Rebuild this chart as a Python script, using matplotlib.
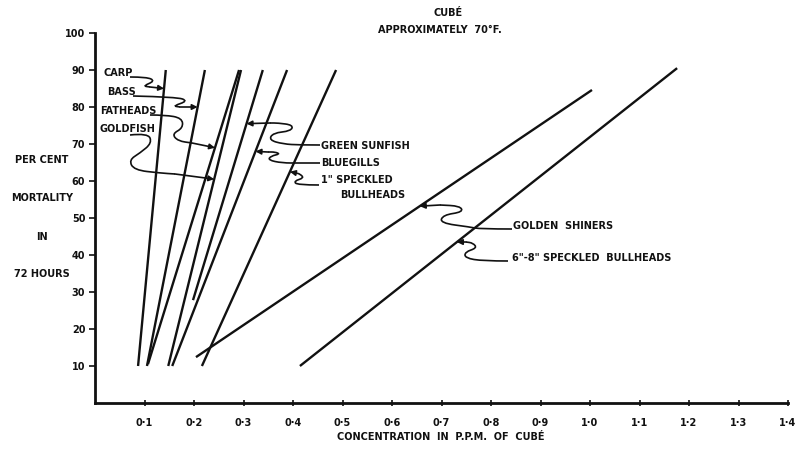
import numpy as np
import matplotlib
matplotlib.use("Agg")
import matplotlib.pyplot as plt
from matplotlib.path import Path
from matplotlib.patches import PathPatch

# per cent mortality in 72 hours vs concentration (p.p.m. of cube)
carp = ([0.087, 0.143], [10, 90])
bass = ([0.105, 0.222], [10, 90])
fatheads = ([0.107, 0.291], [10.5, 90])
goldfish = ([0.148, 0.295], [10, 90])
green_sunfish = ([0.198, 0.339], [27.8, 90])
bluegills = ([0.156, 0.388], [10, 90])
speckled_1in = ([0.216, 0.487], [10, 90])
golden_shiners = ([0.204, 1.004], [12.4, 84.6])
speckled_6_8in = ([0.414, 1.176], [10, 90.5])

series = [carp, bass, fatheads, goldfish, green_sunfish, bluegills,
          speckled_1in, golden_shiners, speckled_6_8in]

x_ticks = [0.1, 0.2, 0.3, 0.4, 0.5, 0.6, 0.7, 0.8, 0.9, 1.0, 1.1, 1.2, 1.3, 1.4]
x_ticklabels = ["0·1", "0·2", "0·3", "0·4", "0·5", "0·6", "0·7", "0·8", "0·9",
                "1·0", "1·1", "1·2", "1·3", "1·4"]
y_ticks = [10, 20, 30, 40, 50, 60, 70, 80, 90, 100]

INK = "#111111"
FONT = dict(family="DejaVu Sans", weight="bold", color=INK)

fig = plt.figure(figsize=(8.02, 4.49), dpi=100)
ax = fig.add_axes([95 / 802, 1 - 403 / 449, 693 / 802, 370 / 449])
ax.set_xlim(0, 1.4)
ax.set_ylim(0, 100)


def px(x, y):
    # layout helper: pixel position in the picture -> data coords
    return (x - 95) / 495, (403 - y) / 3.7


for xs, ys in series:
    ax.plot(xs, ys, color=INK, lw=1.7, solid_capstyle="butt")


def leader(pts, line, pct):
    # wavy hand-drawn leader from a label to a point on a line
    d = [px(*p) for p in pts]
    tip = (np.interp(pct, line[1], line[0]), pct)
    verts = [d[0]]
    codes = [Path.MOVETO]
    for i in range(1, len(d) - 1):
        mid = ((d[i][0] + d[i + 1][0]) / 2, (d[i][1] + d[i + 1][1]) / 2)
        verts += [d[i], mid]
        codes += [Path.CURVE3, Path.CURVE3]
    verts.append(d[-1])
    codes.append(Path.LINETO)
    ax.add_patch(PathPatch(Path(verts, codes), fill=False, ec=INK, lw=1.2,
                           clip_on=False))
    ax.annotate("", xy=tip, xytext=d[-1],
                arrowprops=dict(arrowstyle="-|>", color=INK, lw=1.2,
                                mutation_scale=8, shrinkA=0, shrinkB=0))


def label(x, y, s, ha="left"):
    ax.text(*px(x, y), s, fontsize=7, ha=ha, va="center", **FONT)


label(103, 73, "CARP")
leader([(130, 77), (147, 77), (155, 81), (143, 86), (150, 87)], carp, 85)
label(107, 92, "BASS")
leader([(133, 96), (177, 97), (188, 101), (173, 106), (180, 107)], bass, 80)
label(100, 111, "FATHEADS")
leader([(150, 115), (165, 115), (182, 118), (183, 128), (172, 134), (178, 141),
        (192, 143)], fatheads, 69)
label(100, 129, "GOLDFISH")
leader([(130, 135), (148, 133), (152, 143), (140, 153), (129, 160), (134, 170),
        (160, 173), (175, 174)], goldfish, 60.5)

label(321, 146, "GREEN SUNFISH")
leader([(320, 145), (300, 145), (283, 144), (269, 140), (273, 133), (291, 131),
        (293, 125), (278, 123), (270, 123)], green_sunfish, 75.5)
label(321, 163, "BLUEGILLS")
leader([(320, 163), (300, 163), (282, 163), (268, 160), (271, 156), (280, 154),
        (275, 152), (268, 152)], bluegills, 68)
label(321, 180, "1\" SPECKLED")
label(340, 195, "BULLHEADS")
leader([(319, 185), (297, 185), (294, 181), (304, 178), (300, 174), (296, 173)],
       speckled_1in, 62.5)

label(513, 226, "GOLDEN  SHINERS")
leader([(512, 229), (480, 229), (470, 227), (440, 223), (443, 215), (463, 212),
        (460, 206), (440, 205)], golden_shiners, 53.2)
label(512, 258, "6\"-8\" SPECKLED  BULLHEADS")
leader([(508, 261), (483, 261), (465, 258), (465, 252), (477, 248), (473, 243),
        (466, 242)], speckled_6_8in, 43.5)

# title
fig.text(448 / 802, 1 - 13 / 449, "CUBÉ", fontsize=7, ha="center", va="center", **FONT)
fig.text(440 / 802, 1 - 30 / 449, "APPROXIMATELY  70°F.", fontsize=7, ha="center",
         va="center", **FONT)

# y label, stacked like the original
for yy, s in [(160, "PER CENT"), (198, "MORTALITY"), (237, "IN"), (274, "72 HOURS")]:
    fig.text(42 / 802, 1 - yy / 449, s, fontsize=7, ha="center", va="center", **FONT)

fig.text(441 / 802, 1 - 437 / 449, "CONCENTRATION  IN  P.P.M.  OF  CUBÉ", fontsize=7,
         ha="center", va="center", **FONT)

ax.set_xticks(x_ticks)
ax.set_xticklabels(x_ticklabels)
ax.set_yticks(y_ticks)
ax.set_yticklabels([str(v) for v in y_ticks])
for t in ax.get_xticklabels() + ax.get_yticklabels():
    t.set_fontsize(7)
    t.set_fontweight("bold")
    t.set_color(INK)
ax.tick_params(axis="x", direction="inout", length=5, width=1.2, pad=8, color=INK)
ax.tick_params(axis="y", direction="out", length=4, width=1.2, pad=3, color=INK)

for side in ["top", "right"]:
    ax.spines[side].set_visible(False)
for side in ["left", "bottom"]:
    ax.spines[side].set_linewidth(2)
    ax.spines[side].set_color(INK)

fig.savefig("out.png", dpi=100, facecolor="white")
